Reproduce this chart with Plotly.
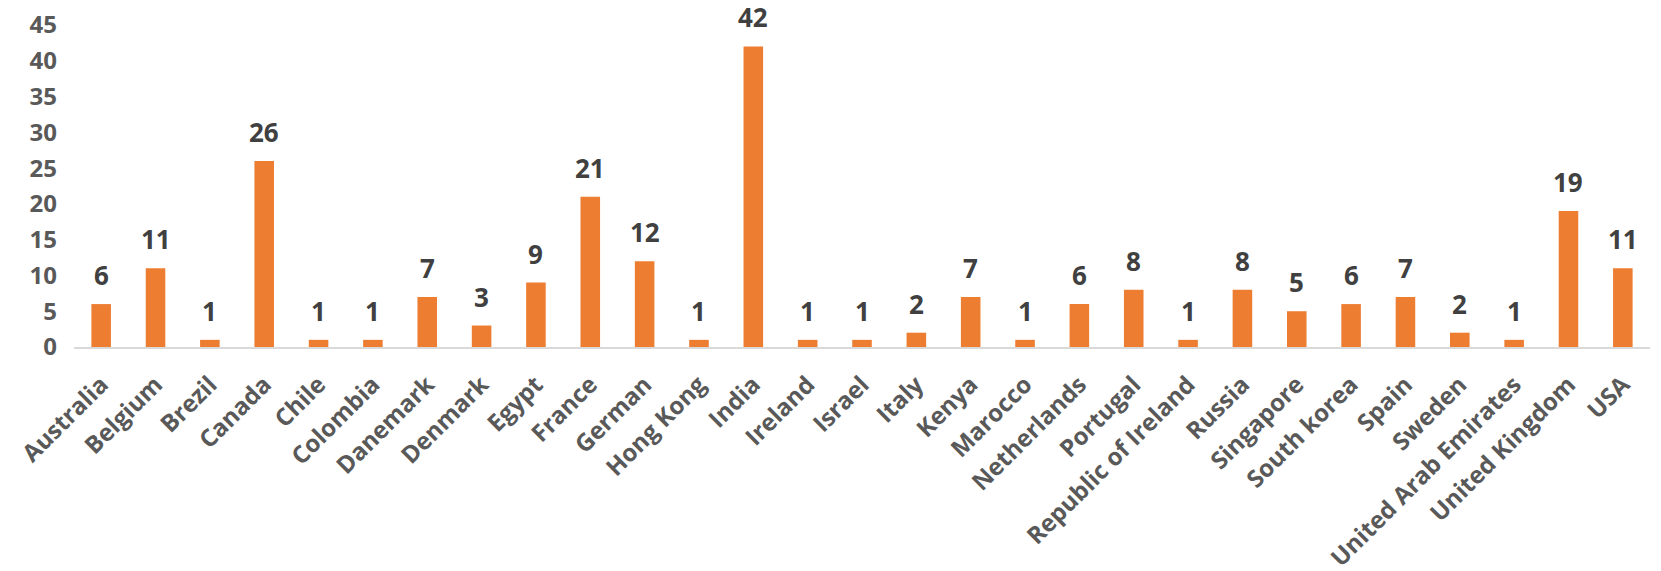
import plotly.graph_objects as go

countries = ["Australia", "Belgium", "Brezil", "Canada", "Chile", "Colombia", "Danemark",
             "Denmark", "Egypt", "France", "German", "Hong Kong", "India", "Ireland", "Israel",
             "Italy", "Kenya", "Marocco", "Netherlands", "Portugal", "Republic of Ireland",
             "Russia", "Singapore", "South korea", "Spain", "Sweden", "United Arab Emirates",
             "United Kingdom", "USA"]
counts = [6, 11, 1, 26, 1, 1, 7, 3, 9, 21, 12, 1, 42, 1, 1, 2, 7, 1, 6, 8, 1, 8, 5, 6, 7, 2, 1, 19, 11]

FONT = "Open Sans"

fig = go.Figure(go.Bar(
    x=countries, y=counts,
    marker=dict(color="#ED7D31", line=dict(width=0)),
    cliponaxis=False,
))

for c, v in zip(countries, counts):
    fig.add_annotation(
        x=c, y=v, text=str(v), showarrow=False, yanchor="bottom", yshift=9,
        font=dict(family=FONT, size=26, color="#404040", weight="bold"),
    )

fig.update_layout(
    width=1661, height=571,
    margin=dict(l=66, r=19, t=17, b=232, autoexpand=False),
    plot_bgcolor="white", paper_bgcolor="white",
    bargap=0.64, showlegend=False,
    font=dict(family=FONT, color="#595959"),
)
fig.update_xaxes(
    tickangle=-45, showgrid=False, showline=True, linecolor="#D9D9D9", linewidth=2,
    tickfont=dict(family=FONT, size=24, color="#595959", weight="bold"),
    ticks="", ticklabelstandoff=12, automargin=False, ticklabeloverflow="allow",
)
fig.update_yaxes(
    range=[0, 45], dtick=5, showgrid=False, zeroline=False, showline=False,
    tickfont=dict(family=FONT, size=24, color="#595959", weight="bold"),
    ticks="", ticklabelstandoff=16, automargin=False, ticklabeloverflow="allow",
)

fig.write_html("out.html")
